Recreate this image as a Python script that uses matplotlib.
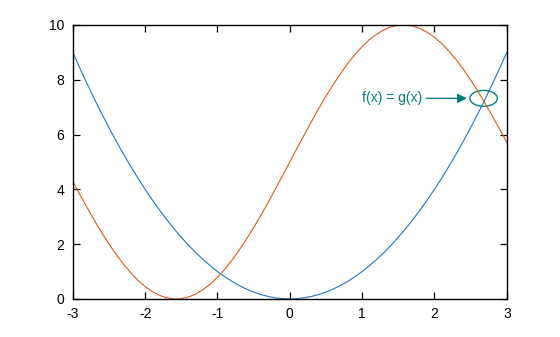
import matplotlib
matplotlib.use("Agg")
import matplotlib.pyplot as plt
from matplotlib.patches import Ellipse

### data
x_vals = [-3.0, -2.9, -2.8, -2.7, -2.6, -2.5, -2.4, -2.3, -2.2, -2.1,
          -2.0, -1.9, -1.8, -1.7, -1.6, -1.5, -1.4, -1.3, -1.2, -1.1,
          -1.0, -0.9, -0.8, -0.7, -0.6, -0.5, -0.4, -0.3, -0.2, -0.1,
          0.0, 0.1, 0.2, 0.3, 0.4, 0.5, 0.6, 0.7, 0.8, 0.9,
          1.0, 1.1, 1.2, 1.3, 1.4, 1.5, 1.6, 1.7, 1.8, 1.9,
          2.0, 2.1, 2.2, 2.3, 2.4, 2.5, 2.6, 2.7, 2.8, 2.9, 3.0]

# blue curve g(x)
g_vals = [9.00, 8.41, 7.84, 7.29, 6.76, 6.25, 5.76, 5.29, 4.84, 4.41,
          4.00, 3.61, 3.24, 2.89, 2.56, 2.25, 1.96, 1.69, 1.44, 1.21,
          1.00, 0.81, 0.64, 0.49, 0.36, 0.25, 0.16, 0.09, 0.04, 0.01,
          0.00, 0.01, 0.04, 0.09, 0.16, 0.25, 0.36, 0.49, 0.64, 0.81,
          1.00, 1.21, 1.44, 1.69, 1.96, 2.25, 2.56, 2.89, 3.24, 3.61,
          4.00, 4.41, 4.84, 5.29, 5.76, 6.25, 6.76, 7.29, 7.84, 8.41, 9.00]

# orange curve f(x)
f_vals = [4.29, 3.80, 3.32, 2.86, 2.42, 2.01, 1.62, 1.27, 0.96, 0.68,
          0.45, 0.27, 0.13, 0.04, 0.00, 0.01, 0.07, 0.18, 0.34, 0.54,
          0.79, 1.08, 1.41, 1.78, 2.18, 2.60, 3.05, 3.52, 4.01, 4.50,
          5.00, 5.50, 5.99, 6.48, 6.95, 7.40, 7.82, 8.22, 8.59, 8.92,
          9.21, 9.46, 9.66, 9.82, 9.93, 9.99, 10.00, 9.96, 9.87, 9.73,
          9.55, 9.32, 9.04, 8.73, 8.38, 7.99, 7.58, 7.14, 6.67, 6.20, 5.71]

x_ticks = [-3, -2, -1, 0, 1, 2, 3]
y_ticks = [0, 2, 4, 6, 8, 10]

plt.rcParams['font.family'] = ['Liberation Sans', 'DejaVu Sans']
plt.rcParams['axes.unicode_minus'] = False

fig = plt.figure(figsize=(5.6, 3.37), dpi=100)
ax = fig.add_axes([0.130, 0.113, 0.775, 0.813])

ax.plot(x_vals, g_vals, color='#1a78c8', linewidth=0.8)
ax.plot(x_vals, f_vals, color='#dc5a18', linewidth=0.8)

ax.set_xlim(-3, 3)
ax.set_ylim(0, 10)
ax.set_xticks(x_ticks)
ax.set_yticks(y_ticks)
ax.tick_params(direction='in', top=True, right=True, length=5, width=0.9,
               labelsize=10, pad=6, colors='black')
for s in ax.spines.values():
    s.set_linewidth(1.0)

# annotation
teal = '#008080'
ax.add_patch(Ellipse((2.68, 7.32), 0.38, 0.58, fill=False, edgecolor=teal, linewidth=1.0))
ax.annotate('f(x) = g(x)', xy=(2.45, 7.32), xytext=(1.83, 7.32),
            color=teal, fontsize=10, ha='right', va='center',
            arrowprops=dict(arrowstyle='-|>', color=teal, lw=1.0,
                            mutation_scale=14, shrinkA=1, shrinkB=0))

fig.savefig('out.png', dpi=100)
